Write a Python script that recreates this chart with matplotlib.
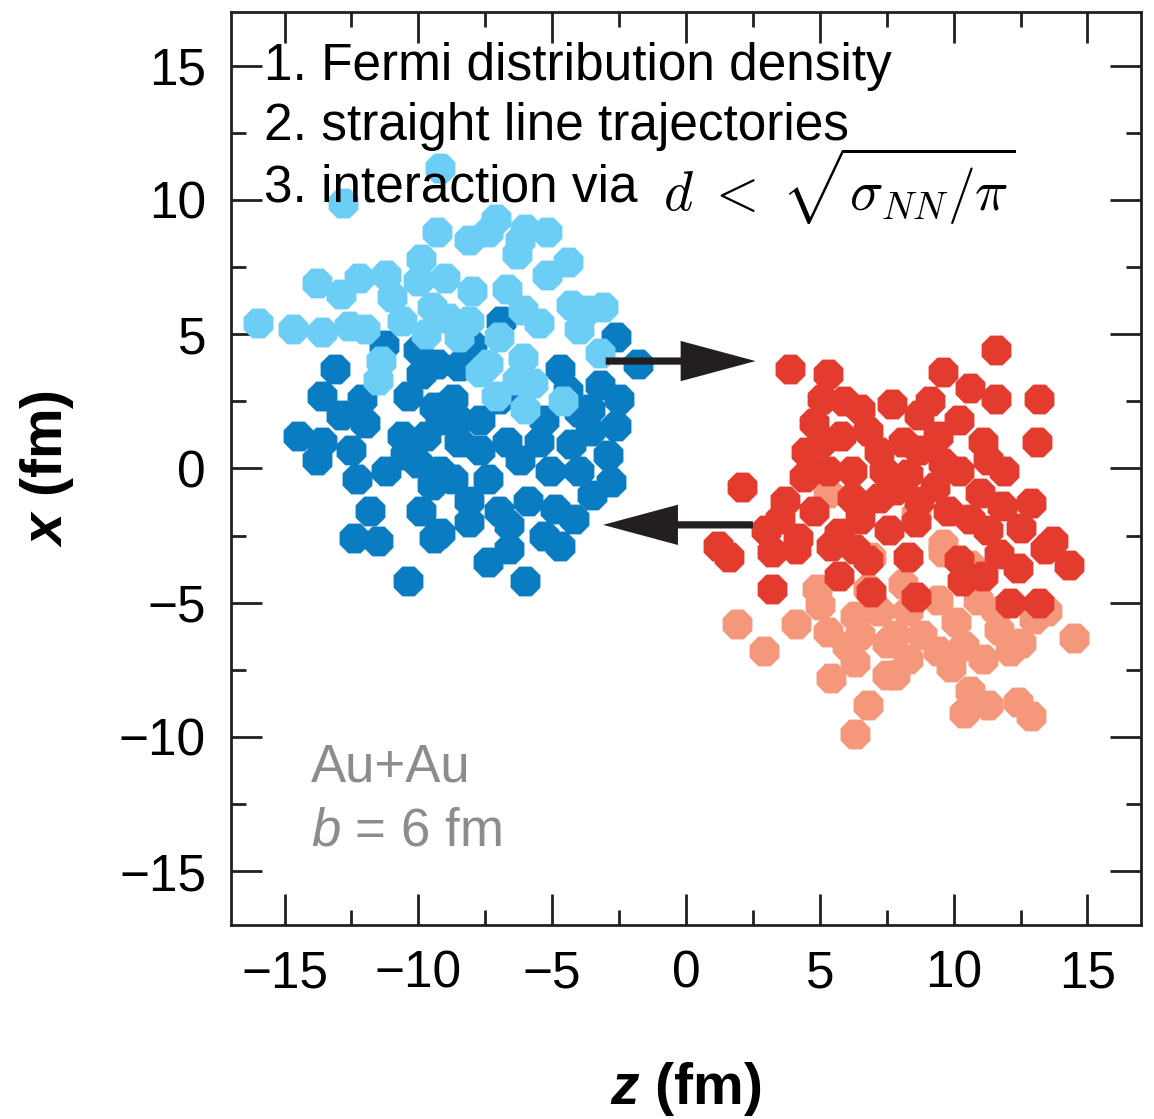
import matplotlib
matplotlib.use('Agg')
import matplotlib.pyplot as plt
from matplotlib.ticker import MultipleLocator

plt.rcParams['font.family'] = ['Liberation Sans', 'DejaVu Sans']
plt.rcParams['mathtext.fontset'] = 'custom'
plt.rcParams['mathtext.rm'] = 'Liberation Sans'
plt.rcParams['mathtext.it'] = 'Liberation Sans:italic'
plt.rcParams['mathtext.bf'] = 'Liberation Sans:bold'
plt.rcParams['mathtext.bfit'] = 'Liberation Sans:italic:bold'

# nucleon positions (z, x) in fm
# left nucleus (blue), moving to +z
blue_dark_z = [-11.3, -13.1, -10.0, -9.3, -6.9, -2.6, -1.8, -4.7, -8.5, -8.0,
               -13.6, -12.1, -12.9, -12.0, -14.5, -13.6, -12.5, -13.8, -12.3, -11.2,
               -10.6, -9.7, -10.0, -10.4, -9.4, -11.8, -12.4, -11.5, -9.9, -9.4,
               -10.4, -9.9, -3.2, -2.5, -2.6, -2.8, -3.5, -4.9, -4.7, -6.6,
               -7.4, -6.0, -7.0, -4.3, -5.1, -6.7, -8.7, -9.2, -8.1, -8.5,
               -7.7, -8.7, -7.4, -6.2, -5.9, -7.0, -8.1, -9.2, -5.3, -4.0,
               -3.6, -5.5, -7.7, -9.5, -6.6, -5.3, -4.2, -4.4, -3.6, -6.2,
               -2.9, -8.5, -10.5, -4.0, -9.2]
blue_dark_x = [4.6, 3.7, 4.4, 3.9, 5.5, 4.9, 3.9, 3.7, 3.8, 4.6,
               2.7, 2.6, 2.0, 1.7, 1.2, 1.0, 0.7, 0.3, -0.4, -0.1,
               1.2, 1.2, 0.2, 2.7, 2.3, -1.6, -2.6, -2.7, -1.6, -2.6,
               -4.2, 3.5, 3.1, 2.6, 1.6, -0.5, -1.0, -1.5, -2.9, -3.0,
               -3.5, -4.2, 2.6, 0.9, -0.1, 1.0, 2.6, -2.4, -2.0, 1.8,
               0.7, -0.4, -0.4, 0.3, -1.2, -1.6, -1.2, -0.1, 1.8, -0.1,
               1.4, 1.0, 1.8, -0.6, -2.1, -2.5, -1.9, 2.9, 2.2, 2.7,
               0.5, 1.0, 0.5, 2.1, 1.8]
blue_light_z = [-16.0, -14.7, -13.6, -12.6, -12.0, -13.8, -12.9, -12.2, -11.2, -11.0,
                -12.8, -10.0, -9.9, -9.3, -9.2, -10.6, -9.5, -11.4, -11.5, -7.4,
                -7.1, -6.0, -5.2, -6.3, -4.4, -5.2, -9.0, -8.0, -6.7, -4.3,
                -3.1, -5.5, -7.0, -8.5, -3.2, -6.1, -7.4, -4.6, -6.0, -7.1,
                -8.1, -6.2, -5.7, -7.7, -6.3, -6.1, -8.1, -9.7, -3.7, -4.0,
                -8.9]
blue_light_x = [5.4, 5.2, 5.1, 5.3, 5.2, 6.9, 6.5, 7.1, 7.2, 6.4,
                9.9, 7.0, 7.8, 8.8, 11.2, 5.5, 6.0, 4.0, 3.3, 8.8,
                9.3, 8.9, 8.8, 8.0, 7.7, 7.2, 7.1, 6.6, 6.7, 6.1,
                6.0, 5.4, 4.9, 4.9, 4.3, 4.1, 3.9, 2.5, 2.2, 2.7,
                8.5, 8.5, 3.2, 3.6, 3.3, 5.9, 5.5, 5.0, 5.9, 5.2,
                5.6]

# right nucleus (red), moving to -z
red_dark_z = [3.9, 5.3, 5.1, 6.5, 4.8, 5.8, 7.7, 4.5, 7.2, 6.2,
              2.1, 3.7, 6.2, 7.2, 3.0, 4.2, 5.7, 1.2, 11.6, 9.6,
              10.6, 11.6, 13.2, 13.1, 8.7, 10.2, 8.1, 9.4, 11.3, 11.9,
              9.6, 8.3, 7.8, 9.3, 11.0, 11.8, 12.9, 12.5, 10.6, 8.6,
              13.7, 14.3, 1.6, 3.2, 4.1, 5.4, 6.3, 3.2, 5.7, 6.9,
              8.3, 10.3, 8.6, 11.7, 12.4, 13.4, 12.1, 13.2, 6.8, 7.4,
              6.5, 7.6, 8.7, 9.8, 10.2, 11.1, 8.7, 6.8, 4.8, 5.3,
              5.1, 5.9, 9.1, 11.3, 10.2, 11.1, 4.4, 3.5]
red_dark_x = [3.7, 3.5, 2.6, 2.2, 1.7, 1.2, 2.4, 0.6, 0.6, -0.1,
              -0.7, -1.2, -1.1, -1.1, -2.3, -2.6, -2.4, -2.9, 4.4, 3.6,
              3.0, 2.6, 2.6, 1.0, 2.0, 1.8, 1.0, 1.2, 0.3, -0.1,
              0.2, -0.2, -0.8, -0.7, -0.9, -1.4, -1.3, -2.2, -1.9, -2.0,
              -2.7, -3.6, -3.3, -3.1, -3.0, -2.9, -3.0, -4.5, -4.0, -4.6,
              -3.3, -4.2, -4.8, -3.2, -3.7, -3.0, -5.0, -5.0, 1.4, -0.1,
              -1.9, -2.3, -1.2, -1.6, -0.1, 1.0, 0.7, -3.4, -1.6, -0.1,
              1.0, 2.5, 2.5, -2.3, -3.4, -4.0, -0.3, -1.9]
red_light_z = [5.3, 8.6, 9.6, 6.9, 4.9, 5.0, 1.9, 4.1, 2.9, 5.3,
               6.3, 7.2, 5.4, 6.3, 7.5, 6.8, 6.3, 6.0, 7.5, 9.6,
               10.6, 8.1, 13.5, 14.5, 12.5, 11.6, 10.1, 10.4, 9.9, 7.8,
               10.6, 10.4, 11.3, 12.4, 12.9, 8.8, 7.8, 8.3, 9.4, 10.9,
               11.7, 9.4, 8.3, 6.5, 11.1, 13.0, 6.8, 12.1]
red_light_x = [-0.9, -1.7, -2.8, -3.3, -4.5, -5.1, -5.8, -5.8, -6.8, -6.1,
               -5.5, -5.3, -7.8, -7.2, -7.7, -8.8, -9.9, -6.6, -6.5, -3.1,
               -3.6, -4.3, -5.3, -6.3, -6.5, -5.3, -5.7, -6.6, -7.4, -7.7,
               -8.3, -9.1, -8.8, -8.7, -9.2, -6.2, -6.2, -5.3, -4.9, -4.9,
               -6.0, -6.8, -7.1, -6.2, -7.1, -5.6, -4.5, -6.8]

# arrows: start z, x and length in z
arrow_right = (-3.0, 4.0, 5.6)
arrow_left = (2.5, -2.1, -5.6)

c_blue_dark = '#0A7DC2'
c_blue_light = '#6CCEF4'
c_red_dark = '#E43B2F'
c_red_light = '#F5977A'

fig = plt.figure(figsize=(11.54, 11.19), dpi=100)
ax = fig.add_axes([0.2002, 0.1734, 0.7885, 0.8159])

ms = 540
ax.scatter(blue_dark_z, blue_dark_x, s=ms, marker='8', c=c_blue_dark, linewidths=0, zorder=2)
ax.scatter(blue_light_z, blue_light_x, s=ms, marker='8', c=c_blue_light, linewidths=0, zorder=3)
ax.scatter(red_light_z, red_light_x, s=ms, marker='8', c=c_red_light, linewidths=0, zorder=2)
ax.scatter(red_dark_z, red_dark_x, s=ms, marker='8', c=c_red_dark, linewidths=0, zorder=3)

for z0, x0, dz in (arrow_right, arrow_left):
    ax.arrow(z0, x0, dz, 0, width=0.27, head_width=1.5, head_length=2.8,
             length_includes_head=True, color='#231F20', lw=0, zorder=5)

ax.set_xlim(-17, 17)
ax.set_ylim(-17, 17)
ax.set_xticks(range(-15, 16, 5))
ax.set_yticks(range(-15, 16, 5))
ax.xaxis.set_minor_locator(MultipleLocator(2.5))
ax.yaxis.set_minor_locator(MultipleLocator(2.5))
ax.tick_params(which='both', direction='in', top=True, right=True, width=2, color='#231F20')
ax.tick_params(which='major', length=22, labelsize=37, pad=18)
ax.tick_params(which='minor', length=11)
for sp in ax.spines.values():
    sp.set_linewidth(2)
    sp.set_color('#231F20')

ax.text(-15.75, 14.96, '1. Fermi distribution density', fontsize=37, va='center', zorder=6)
ax.text(-15.75, 12.74, '2. straight line trajectories', fontsize=37, va='center', zorder=6)
ax.text(-15.75, 10.43, '3. interaction via', fontsize=37, va='center', zorder=6)
ax.text(-0.85, 10.5, r'$d \;<\; \sqrt{\sigma_{NN}/\pi}$', fontsize=40, va='center',
        math_fontfamily='cm', zorder=6)

ax.text(-14.0, -11.14, 'Au+Au', fontsize=38, va='center', color='#8C8C8C')
ax.text(-14.0, -13.52, r'$\mathit{b}$ = 6 fm', fontsize=38, va='center', color='#8C8C8C')

ax.set_xlabel(r'$\mathbfit{z}$ (fm)', fontsize=41, fontweight='bold')
ax.set_ylabel(r'$\mathbfit{x}$ (fm)', fontsize=41, fontweight='bold')
ax.xaxis.set_label_coords(0.5, -0.148)
ax.yaxis.set_label_coords(-0.17, 0.5)

fig.savefig('out.png', dpi=100)
